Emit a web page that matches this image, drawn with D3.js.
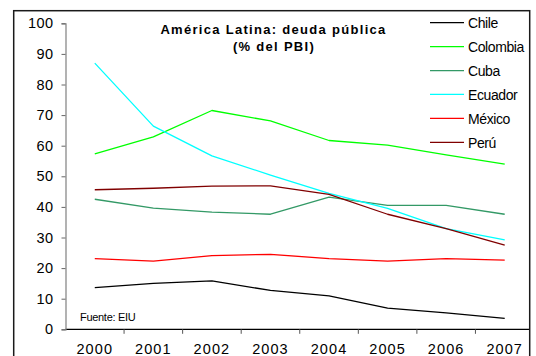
<!DOCTYPE html>
<html>
<head>
<meta charset="utf-8">
<script src="https://cdn.jsdelivr.net/npm/d3@7/dist/d3.min.js"></script>
<style>
  html, body { margin: 0; padding: 0; background: #fff; }
  svg { display: block; font-family: "Liberation Sans", Arial, sans-serif; }
</style>
</head>
<body>
<svg id="chart" width="536" height="356"></svg>
<script>
// Public debt, % of GDP, 2000-2007
const years = ["2000", "2001", "2002", "2003", "2004", "2005", "2006", "2007"];
const countries = ["Chile", "Colombia", "Cuba", "Ecuador", "México", "Perú"];
const chile    = [13.6, 15.0, 15.8, 12.7, 10.9, 6.9, 5.4, 3.6];
const colombia = [57.3, 62.9, 71.5, 68.1, 61.7, 60.2, 57.0, 54.0];
const cuba     = [42.5, 39.6, 38.3, 37.6, 43.2, 40.5, 40.5, 37.6];
const ecuador  = [87.0, 66.4, 56.7, 50.4, 44.4, 39.5, 32.9, 29.2];
const mexico   = [23.1, 22.3, 24.1, 24.5, 23.1, 22.3, 23.1, 22.6];
const peru     = [45.6, 46.1, 46.8, 46.9, 44.1, 37.6, 32.9, 27.5];
const yTicks = [0, 10, 20, 30, 40, 50, 60, 70, 80, 90, 100];
const colors = ["#000000", "#00ff00", "#339966", "#00ffff", "#ff0000", "#800000"];
const title = ["América Latina: deuda pública", "(% del PBI)"];
const source = "Fuente: EIU";

const series = [chile, colombia, cuba, ecuador, mexico, peru];

const svg = d3.select("#chart");

const x = d3.scaleBand().domain(years).range([65.5, 534]).padding(0);
const y = d3.scaleLinear().domain([0, 100]).range([329.3, 23.3]);
const color = d3.scaleOrdinal().domain(countries).range(colors);

svg.append("defs").append("clipPath").attr("id", "plotClip")
  .append("rect").attr("x", 0).attr("y", 0).attr("width", 529.5).attr("height", 356);

const plot = svg.append("g").attr("clip-path", "url(#plotClip)");

// X axis: ticks between categories, labels centred under each year
const xAxis = plot.append("g")
  .attr("transform", `translate(0,${y(0)})`);
xAxis.append("line")
  .attr("x1", x.range()[0]).attr("x2", x.range()[1])
  .attr("stroke", "#000").attr("stroke-width", 1.2);
xAxis.selectAll("line.tick")
  .data(years.slice(1))
  .join("line")
  .attr("class", "tick")
  .attr("x1", d => x(d)).attr("x2", d => x(d))
  .attr("y1", 0).attr("y2", 4.5)
  .attr("stroke", "#555").attr("stroke-width", 1);
xAxis.selectAll("text")
  .data(years)
  .join("text")
  .attr("x", d => x(d) + x.bandwidth() / 2)
  .attr("y", 25)
  .attr("text-anchor", "middle")
  .attr("font-size", 14.5)
  .attr("letter-spacing", 1.1)
  .attr("fill", "#000")
  .text(d => d);

// Y axis
const yAxis = svg.append("g")
  .attr("transform", `translate(${x.range()[0]},0)`)
  .call(d3.axisLeft(y).tickValues(yTicks).tickSize(4).tickPadding(8));
yAxis.select(".domain").attr("stroke", "#808080").attr("stroke-width", 1.2);
yAxis.selectAll(".tick line").attr("stroke", "#666");
yAxis.selectAll(".tick text")
  .attr("font-size", 14.5)
  .attr("letter-spacing", 0.4)
  .attr("font-family", "Liberation Sans, Arial, sans-serif")
  .attr("fill", "#000");

// Series lines
const line = d3.line()
  .x((d, i) => x(years[i]) + x.bandwidth() / 2)
  .y(d => y(d));

plot.selectAll("path.series")
  .data(series)
  .join("path")
  .attr("class", "series")
  .attr("d", d => line(d))
  .attr("fill", "none")
  .attr("stroke", (d, i) => color(countries[i]))
  .attr("stroke-width", 1.3)
  .attr("stroke-linejoin", "round");

// Title
svg.append("text")
  .attr("x", 273.5).attr("y", 34)
  .attr("text-anchor", "middle")
  .attr("font-size", 13)
  .attr("font-weight", "bold")
  .attr("letter-spacing", 1.3)
  .text(title[0]);
svg.append("text")
  .attr("x", 274).attr("y", 51)
  .attr("text-anchor", "middle")
  .attr("font-size", 13)
  .attr("font-weight", "bold")
  .attr("letter-spacing", 1.3)
  .text(title[1]);

// Legend
const legend = svg.append("g").attr("transform", "translate(430,22.7)");
const rows = legend.selectAll("g")
  .data(countries)
  .join("g")
  .attr("transform", (d, i) => `translate(0,${i * 23.92})`);
rows.append("line")
  .attr("x1", 0).attr("x2", 34)
  .attr("stroke", d => color(d))
  .attr("stroke-width", 1.3);
rows.append("text")
  .attr("x", 38).attr("y", 5.2)
  .attr("font-size", 14)
  .attr("letter-spacing", -0.4)
  .text(d => d);

// Source note
svg.append("text")
  .attr("x", 80).attr("y", 321)
  .attr("font-size", 11)
  .attr("letter-spacing", -0.3)
  .text(source);

// Chart frame
svg.append("rect")
  .attr("x", 13.7).attr("y", 10.7)
  .attr("width", 516).attr("height", 360)
  .attr("fill", "none")
  .attr("stroke", "#1a1a1a")
  .attr("stroke-width", 1.5);
</script>
</body>
</html>
